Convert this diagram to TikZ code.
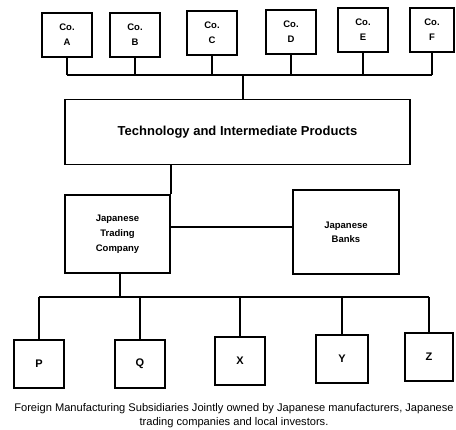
\documentclass[tikz,border=0pt]{standalone}
\usepackage{fontspec}
\setmainfont{Liberation Sans}
\begin{document}
\begin{tikzpicture}[x=1pt,y=-1pt,
  line width=1.8pt,
  box/.style={draw, line width=1.8pt, align=center, inner sep=0pt},
  cobox/.style={box, minimum width=50pt, minimum height=44pt, font=\fontsize{9.5}{15}\selectfont\bfseries},
  subbox/.style={box, minimum width=50pt, minimum height=48pt, font=\fontsize{11}{14}\selectfont\bfseries},
  link/.style={draw, line width=1.8pt}]
\useasboundingbox (0,0) rectangle (456,430);

% companies supplying technology
\node[cobox] (coA) at (67,35) {Co.\\A};
\node[cobox] (coB) at (135,35) {Co.\\B};
\node[cobox] (coC) at (212,33) {Co.\\C};
\node[cobox] (coD) at (291,32) {Co.\\D};
\node[cobox] (coE) at (363,30) {Co.\\E};
\node[cobox, minimum width=44pt] (coF) at (432,30) {Co.\\F};

% central blocks
\node[box, minimum width=345pt, minimum height=65pt,
      font=\fontsize{13}{15}\selectfont\bfseries] (tech) at (237.5,132)
      {Technology and Intermediate Products};
\node[box, minimum width=105pt, minimum height=78pt,
      font=\fontsize{9.5}{15}\selectfont\bfseries] (trade) at (117.5,234)
      {Japanese\\Trading\\Company};
\node[box, minimum width=106pt, minimum height=84pt,
      font=\fontsize{9.5}{14}\selectfont\bfseries] (banks) at (346,232)
      {Japanese\\Banks};

% subsidiaries
\node[subbox] (sP) at (39,364) {P};
\node[subbox] (sQ) at (140,364) {Q};
\node[subbox] (sX) at (240,361) {X};
\node[subbox, minimum width=52pt] (sY) at (342,359) {Y};
\node[subbox, minimum width=48pt] (sZ) at (429,357) {Z};

% caption
\node[font=\fontsize{11.1}{14}\selectfont, align=center, inner sep=0pt] (cap) at (234,416)
  {Foreign Manufacturing Subsidiaries Jointly owned by Japanese manufacturers, Japanese\\
   trading companies and local investors.};

% upper bus
\coordinate (busT) at (243,75);
\foreach \n in {coA,coB,coC,coD,coE,coF}
  \draw[link] (\n.south) -- (\n.south |- busT);
\draw[link] (coA.south |- busT) -- (coF.south |- busT);
\draw[link] (busT) -- (busT |- tech.north);

% tech to trading company and banks
\draw[link] (trade.north east) -- (trade.north east |- tech.south);
\coordinate (midlink) at (170,227);
\draw[link] (midlink) -- (midlink -| banks.west);

% lower bus
\coordinate (busB) at (120,297);
\draw[link] (busB |- trade.south) -- (busB);
\draw[link] (sP.north |- busB) -- (sZ.north |- busB);
\foreach \n in {sP,sQ,sX,sY,sZ}
  \draw[link] (\n.north |- busB) -- (\n.north);
\end{tikzpicture}
\end{document}
